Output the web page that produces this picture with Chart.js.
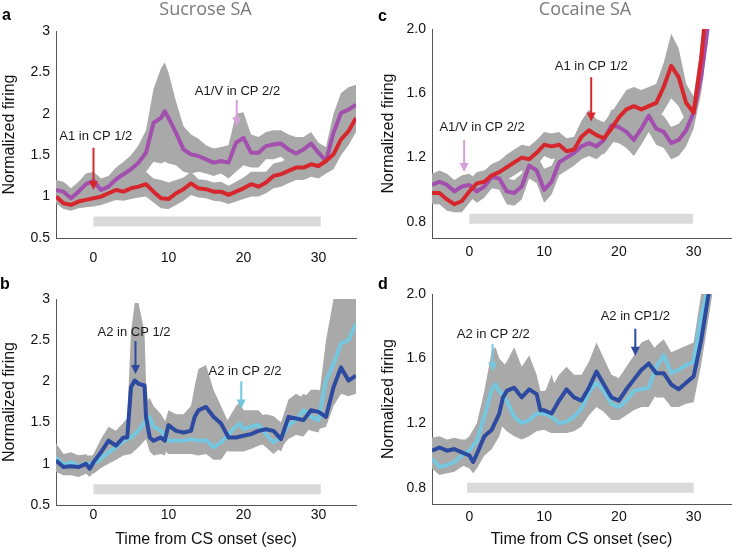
<!DOCTYPE html>
<html>
<head>
  <title>Normalized firing - Sucrose SA / Cocaine SA</title>
  <script src="https://cdn.jsdelivr.net/npm/chart.js"></script>
  <style>
    body { margin: 0; background: #fff; width: 732px; height: 548px; position: relative; overflow: hidden; }
    canvas { position: absolute; }
  </style>
</head>
<body>
  <canvas id="pa" width="366" height="274" style="left:0;top:0"></canvas>
  <canvas id="pc" width="366" height="274" style="left:366px;top:0"></canvas>
  <canvas id="pb" width="366" height="274" style="left:0;top:274px"></canvas>
  <canvas id="pd" width="366" height="274" style="left:366px;top:274px"></canvas>

  <script>
    // ---- data ----
    const xTicks = [0, 10, 20, 30];
    const sucTicks = [0.5, 1, 1.5, 2, 2.5, 3];
    const sucLabels = ['0.5', '1', '1.5', '2', '2.5', '3'];
    const cocTicks = [0.8, 1.2, 1.6, 2.0];
    const cocLabels = ['0.8', '1.2', '1.6', '2.0'];

    // panel a: sucrose, A1 in CP 1/2 (red) and A1/V in CP 2/2 (purple)
    const aRedT = [-5,-4,-3,-2,-1,0,1,2,3,4,5,6,7,8,9,10,11,12,13,14,15,16,17,18,19,20,21,22,23,24,25,26,27,28,29,30,31,32,33,34,35];
    const aRed = [1.00,0.92,0.90,0.94,0.96,0.98,1.00,1.04,1.08,1.06,1.10,1.12,1.15,1.06,0.98,0.97,1.04,1.09,1.16,1.10,1.09,1.06,1.06,1.02,1.06,1.10,1.15,1.12,1.17,1.25,1.27,1.31,1.35,1.35,1.39,1.37,1.43,1.51,1.69,1.79,1.95];
    const aRedHi = [1.08,0.99,0.97,1.02,1.05,1.08,1.10,1.15,1.20,1.17,1.23,1.25,1.30,1.22,1.20,1.17,1.20,1.23,1.30,1.21,1.20,1.17,1.18,1.13,1.18,1.23,1.30,1.30,1.30,1.40,1.42,1.46,1.50,1.50,1.54,1.52,1.58,1.69,1.88,1.96,2.12];
    const aRedLo = [0.92,0.85,0.83,0.86,0.87,0.88,0.90,0.93,0.96,0.95,0.97,0.99,1.00,0.93,0.86,0.85,0.90,0.95,1.02,0.99,0.98,0.95,0.94,0.91,0.94,0.97,1.00,1.00,1.04,1.10,1.12,1.16,1.20,1.20,1.24,1.22,1.28,1.33,1.50,1.62,1.78];
    const aPurT = [-5,-4,-3,-2,-1,0,1,2,3,4,5,6,7,8,9,9.5,10,11,12,13,14,15,16,17,18,19,20,21,22,23,24,25,26,27,28,29,30,31,32,33,34,35];
    const aPur = [1.08,1.06,0.98,1.06,1.15,1.19,1.08,1.12,1.21,1.27,1.33,1.41,1.53,1.89,1.95,2.03,1.95,1.77,1.57,1.51,1.49,1.45,1.41,1.43,1.41,1.65,1.71,1.53,1.53,1.61,1.63,1.64,1.57,1.52,1.57,1.64,1.53,1.43,1.77,2.01,2.05,2.11];
    const aPurHi = [1.20,1.18,1.10,1.18,1.28,1.30,1.22,1.25,1.35,1.42,1.50,1.62,1.80,2.30,2.55,2.62,2.50,2.15,1.85,1.75,1.70,1.62,1.58,1.60,1.62,2.00,2.02,1.75,1.72,1.78,1.80,1.80,1.75,1.72,1.72,1.78,1.65,1.60,2.00,2.25,2.32,2.35];
    const aPurLo = [0.95,0.93,0.88,0.95,1.03,1.05,0.98,1.00,1.08,1.12,1.18,1.22,1.30,1.42,1.40,1.42,1.40,1.38,1.30,1.28,1.30,1.28,1.25,1.28,1.22,1.30,1.38,1.35,1.35,1.45,1.45,1.48,1.40,1.35,1.40,1.50,1.42,1.30,1.55,1.75,1.80,1.85];

    // panel c: cocaine, A1 in CP 1/2 (red) and A1/V in CP 2/2 (purple)
    const cT = [-5,-4,-3,-2,-1,0,1,2,3,4,5,6,7,8,9,10,11,12,13,14,15,16,17,18,19,20,21,22,23,24,25,26,27,28,29,30,31,32];
    const cRed = [0.98,0.98,0.94,0.91,0.93,0.99,1.04,1.05,1.09,1.11,1.14,1.17,1.20,1.19,1.23,1.28,1.27,1.28,1.24,1.25,1.33,1.37,1.34,1.32,1.38,1.45,1.50,1.52,1.50,1.52,1.54,1.64,1.77,1.70,1.54,1.48,1.81,2.30];
    const cRedHi = [1.05,1.05,1.01,0.98,1.00,1.06,1.11,1.12,1.16,1.18,1.22,1.25,1.28,1.27,1.31,1.36,1.35,1.36,1.32,1.33,1.43,1.50,1.44,1.42,1.48,1.55,1.62,1.64,1.62,1.64,1.66,1.79,1.97,1.88,1.66,1.58,1.91,2.40];
    const cRedLo = [0.91,0.91,0.87,0.86,0.86,0.92,0.97,0.98,1.02,1.04,1.06,1.09,1.12,1.11,1.15,1.21,1.19,1.20,1.16,1.17,1.23,1.27,1.24,1.22,1.28,1.35,1.38,1.40,1.38,1.40,1.42,1.49,1.57,1.52,1.42,1.38,1.71,2.20];
    const cPur = [1.03,1.05,1.03,0.99,1.02,1.03,0.99,1.02,1.08,1.07,0.99,0.98,1.02,1.15,1.12,1.00,1.05,1.17,1.20,1.23,1.27,1.29,1.27,1.31,1.40,1.39,1.36,1.31,1.38,1.46,1.38,1.36,1.29,1.31,1.37,1.48,1.70,2.05];
    const cPurHi = [1.10,1.12,1.10,1.06,1.09,1.10,1.06,1.09,1.15,1.14,1.07,1.06,1.10,1.23,1.22,1.13,1.15,1.25,1.28,1.31,1.35,1.37,1.35,1.39,1.50,1.49,1.46,1.41,1.48,1.56,1.48,1.46,1.39,1.41,1.47,1.58,1.80,2.15];
    const cPurLo = [0.96,0.98,0.96,0.92,0.95,0.96,0.92,0.95,1.01,1.00,0.91,0.90,0.94,1.07,1.04,0.92,0.97,1.09,1.12,1.15,1.19,1.21,1.19,1.23,1.30,1.29,1.26,1.21,1.28,1.36,1.28,1.26,1.19,1.21,1.27,1.38,1.60,1.95];

    // panel b: sucrose, A2 in CP 1/2 (dark blue) and A2 in CP 2/2 (light blue)
    const bDarkT = [-5,-4,-3,-2,-1,-0.5,0,1,2,3,4,4.5,5,5.5,6,6.8,7,7.5,8,9,9.5,10,11,12,13,13.5,14,15,16,17,18,19,20,21,22,23,24,25,26,27,28,29,30,31,32,33,34,35];
    const bDark = [1.04,0.96,0.97,0.96,1.00,0.94,1.02,1.14,1.28,1.22,1.32,1.32,1.93,2.01,1.97,1.95,1.57,1.32,1.28,1.32,1.28,1.47,1.40,1.38,1.40,1.57,1.65,1.69,1.57,1.49,1.32,1.32,1.34,1.36,1.40,1.42,1.40,1.30,1.57,1.55,1.53,1.65,1.63,1.57,1.93,2.17,2.01,2.07];
    const bDarkHi = [1.22,1.12,1.12,1.10,1.12,1.06,1.12,1.30,1.45,1.40,1.50,1.55,2.60,2.95,2.95,2.60,2.00,1.55,1.50,1.55,1.50,1.65,1.60,1.60,1.70,1.95,2.15,2.20,1.90,1.70,1.50,1.50,1.55,1.55,1.58,1.60,1.58,1.50,1.78,1.85,1.80,1.90,1.90,1.85,2.40,2.50,2.40,2.40];
    const bDarkLo = [0.90,0.86,0.86,0.84,0.88,0.84,0.90,1.00,1.12,1.08,1.15,1.15,1.40,1.45,1.45,1.50,1.30,1.15,1.10,1.12,1.10,1.25,1.22,1.20,1.20,1.30,1.35,1.40,1.30,1.25,1.15,1.15,1.15,1.18,1.22,1.25,1.22,1.15,1.38,1.35,1.33,1.45,1.42,1.45,1.70,1.85,1.82,1.85];
    const bLightT = [-5,-4,-3,-2,-1,0,1,2,3,4,5,6,7,7.5,8,9,10,11,12,13,14,15,16,17,18,19,19.5,20,21,22,23,24,25,26,27,28,29,30,31,32,33,34,35];
    const bLight = [1.08,0.98,1.02,0.97,1.00,1.00,1.06,1.14,1.20,1.28,1.32,1.40,1.53,1.57,1.45,1.40,1.28,1.28,1.28,1.30,1.28,1.29,1.20,1.26,1.36,1.45,1.49,1.42,1.45,1.47,1.36,1.26,1.32,1.47,1.53,1.65,1.57,1.53,2.01,2.21,2.46,2.50,2.70];
    const bLightHi = [1.25,1.12,1.14,1.10,1.10,1.10,1.20,1.30,1.35,1.45,1.50,1.60,1.75,1.80,1.70,1.60,1.45,1.45,1.45,1.50,1.45,1.45,1.38,1.40,1.55,1.70,1.75,1.65,1.65,1.65,1.55,1.45,1.50,1.65,1.75,1.85,1.80,1.75,2.50,3.00,3.10,3.10,3.10];
    const bLightLo = [0.92,0.86,0.90,0.85,0.90,0.88,0.95,1.00,1.05,1.10,1.12,1.20,1.30,1.35,1.25,1.20,1.12,1.12,1.12,1.12,1.10,1.12,1.05,1.05,1.18,1.25,1.30,1.25,1.28,1.28,1.20,1.12,1.20,1.30,1.35,1.45,1.40,1.38,1.65,1.75,1.85,1.90,2.00];

    // panel d: cocaine, A2 in CP1/2 (dark blue) and A2 in CP 2/2 (light blue)
    const dDarkT = [-5,-4,-3,-2,-1,0,0.5,1,2,3,4,4.5,5,6,7,8,9,9.5,10,11,12,13,14,15,16,17,18,19,20,21,22,23,24,25,26,27,28,29,30,31,32,33];
    const dDark = [1.03,1.05,1.03,1.04,1.02,1.00,0.96,1.01,1.12,1.16,1.26,1.36,1.40,1.42,1.36,1.41,1.38,1.28,1.28,1.26,1.34,1.41,1.36,1.34,1.42,1.52,1.44,1.36,1.34,1.41,1.47,1.53,1.57,1.51,1.51,1.44,1.41,1.45,1.49,1.71,2.00,2.30];
    const dDarkHi = [1.11,1.12,1.10,1.11,1.10,1.10,1.05,1.10,1.22,1.30,1.42,1.55,1.58,1.67,1.55,1.62,1.50,1.40,1.40,1.42,1.50,1.55,1.50,1.50,1.58,1.70,1.60,1.50,1.48,1.55,1.62,1.70,1.72,1.65,1.65,1.60,1.55,1.62,1.66,1.85,2.15,2.45];
    const dDarkLo = [0.95,0.97,0.95,0.96,0.94,0.92,0.89,0.92,1.00,1.04,1.12,1.20,1.22,1.25,1.20,1.24,1.22,1.16,1.16,1.14,1.18,1.26,1.20,1.20,1.26,1.34,1.30,1.24,1.24,1.28,1.32,1.36,1.40,1.36,1.36,1.30,1.30,1.32,1.33,1.56,1.85,2.15];
    const dLightT = [-5,-4,-3,-2,-1,0,1,2,3,3.5,4,5,6,7,8,9,10,11,12,13,14,15,16,17,18,19,20,21,22,23,24,25,26,27,28,29,30,31,32];
    const dLight = [0.98,0.93,0.94,0.96,1.00,1.03,1.09,1.24,1.41,1.44,1.40,1.34,1.24,1.20,1.22,1.26,1.26,1.24,1.20,1.21,1.24,1.29,1.39,1.45,1.40,1.32,1.30,1.34,1.40,1.41,1.42,1.55,1.62,1.51,1.53,1.56,1.58,1.86,2.04];
    const dLightHi = [1.06,1.01,1.02,1.04,1.08,1.12,1.20,1.40,1.65,1.67,1.60,1.55,1.42,1.35,1.38,1.40,1.38,1.50,1.35,1.35,1.38,1.45,1.55,1.62,1.55,1.45,1.42,1.45,1.55,1.58,1.62,1.68,1.72,1.64,1.66,1.68,1.70,2.00,2.20];
    const dLightLo = [0.92,0.88,0.89,0.90,0.93,0.95,0.98,1.08,1.18,1.20,1.20,1.15,1.12,1.10,1.12,1.15,1.16,1.14,1.14,1.14,1.15,1.18,1.25,1.30,1.27,1.22,1.22,1.25,1.28,1.30,1.30,1.38,1.45,1.38,1.38,1.40,1.42,1.72,1.90];

    // CS presentation bars (time span, level)
    const csA = { t: [0, 30.3], y: 0.70 };
    const csC = { t: [0, 29.9], y: 0.82 };
    const csB = { t: [0, 30.3], y: 0.69 };
    const csD = { t: [-0.3, 30], y: 0.80 };

    // ---- styling ----
    const RED = '#d8262d', PURPLE = '#a24fae', PINK = '#d6a0da';
    const DARK = '#2c4a9f', LIGHT = '#74c7de';
    const BAND = '#a9a9a9', BAR = '#dadada', AXIS = '#555';
    const FONT = '"Liberation Sans", Arial, sans-serif';

    function pts(t, v) {
      return t.map((x, i) => ({ x: x, y: v[i] }));
    }

    const annot = {
      id: 'annot',
      afterDatasetsDraw(chart, args, opts) {
        const ctx = chart.ctx, sx = chart.scales.x, sy = chart.scales.y;
        ctx.save();
        opts.arrows.forEach(a => {
          const px = sx.getPixelForValue(a.t);
          const y0 = sy.getPixelForValue(a.from), y1 = sy.getPixelForValue(a.to);
          ctx.strokeStyle = a.color;
          ctx.fillStyle = a.color;
          ctx.lineWidth = 2;
          ctx.beginPath();
          ctx.moveTo(px, y0);
          ctx.lineTo(px, y1 - 8);
          ctx.stroke();
          ctx.beginPath();
          ctx.moveTo(px - 4.5, y1 - 9);
          ctx.lineTo(px + 4.5, y1 - 9);
          ctx.lineTo(px, y1);
          ctx.closePath();
          ctx.fill();
          ctx.fillStyle = '#1a1a1a';
          ctx.font = '13px ' + FONT;
          ctx.textAlign = 'center';
          ctx.textBaseline = 'middle';
          ctx.fillText(a.text, sx.getPixelForValue(a.tx), sy.getPixelForValue(a.ty));
        });
        ctx.restore();
      },
      afterDraw(chart, args, opts) {
        const ctx = chart.ctx;
        ctx.save();
        ctx.textBaseline = 'alphabetic';
        ctx.textAlign = 'left';
        ctx.fillStyle = '#000';
        ctx.font = 'bold 16px ' + FONT;
        ctx.fillText(opts.letter[0], opts.letter[1], opts.letter[2]);
        if (opts.title) {
          ctx.textAlign = 'center';
          ctx.fillStyle = '#7a7a7a';
          ctx.font = '18px "Open Sans", sans-serif';
          ctx.fillText(opts.title[0], opts.title[1], opts.title[2]);
        }
        ctx.restore();
      }
    };

    function makePanel(id, p) {
      let datasets = [];
      p.series.forEach(s => {
        datasets.push({ data: pts(s.t, s.hi), borderWidth: 0, borderColor: 'rgba(0,0,0,0)', pointRadius: 0, fill: '+1', backgroundColor: BAND, order: 3 });
        datasets.push({ data: pts(s.t, s.lo), borderWidth: 0, borderColor: 'rgba(0,0,0,0)', pointRadius: 0, fill: false, order: 3 });
      });
      datasets.push({ data: pts(p.cs.t, [p.cs.y, p.cs.y]), borderColor: BAR, borderWidth: 10, borderCapStyle: 'butt', pointRadius: 0, fill: false, order: 2 });
      p.series.forEach(s => {
        datasets.push({ data: pts(s.t, s.v), borderColor: s.color, borderWidth: 4, borderJoinStyle: 'round', pointRadius: 0, fill: false, order: 1 });
      });

      new Chart(document.getElementById(id), {
        type: 'line',
        data: { datasets: datasets },
        plugins: [annot],
        options: {
          responsive: false,
          animation: false,
          events: [],
          devicePixelRatio: 1,
          layout: { padding: { left: p.padL, top: p.padT, right: p.padR, bottom: 0 } },
          plugins: {
            legend: { display: false },
            tooltip: { enabled: false },
            annot: { arrows: p.arrows, letter: p.letter, title: p.title }
          },
          scales: {
            x: {
              type: 'linear', min: -5, max: 35,
              afterBuildTicks: s => { s.ticks = xTicks.map(v => ({ value: v })); },
              afterFit: s => { s.height = p.xh; },
              grid: { drawOnChartArea: false, drawTicks: false },
              border: { color: AXIS, width: 1 },
              ticks: { font: { family: FONT, size: 14 }, color: '#111', padding: p.xpad, maxRotation: 0, autoSkip: false },
              title: { display: !!p.xTitle, text: p.xTitle || '', font: { family: FONT, size: 16, lineHeight: 1 }, color: '#111', padding: { top: 0, bottom: 0 } }
            },
            y: {
              type: 'linear', min: p.ymin, max: p.ymax,
              afterBuildTicks: s => { s.ticks = p.yTicks.map(v => ({ value: v })); },
              afterFit: s => { s.width = p.yw; },
              grid: { drawOnChartArea: false, drawTicks: false },
              border: { color: AXIS, width: 1 },
              ticks: { font: { family: FONT, size: 14 }, color: '#111', padding: 6, autoSkip: false, callback: (v, i) => p.yLabels[i] },
              title: { display: true, text: 'Normalized firing', font: { family: FONT, size: 16 }, color: '#111', padding: { top: 0, bottom: 0 } }
            }
          }
        }
      });
    }

    makePanel('pa', {
      padL: 0, padT: 31, padR: 10, yw: 56, xh: 36, xpad: 12,
      ymin: 0.5, ymax: 3, yTicks: sucTicks, yLabels: sucLabels,
      letter: ['a', 2, 20], title: ['Sucrose SA', 205.5, 15],
      cs: csA,
      series: [
        { t: aRedT, v: aRed, hi: aRedHi, lo: aRedLo, color: RED },
        { t: aPurT, v: aPur, hi: aPurHi, lo: aPurLo, color: PURPLE }
      ],
      arrows: [
        { text: 'A1 in CP 1/2', tx: 0.3, ty: 1.73, t: 0, from: 1.59, to: 1.08, color: RED },
        { text: 'A1/V in CP 2/2', tx: 19.2, ty: 2.27, t: 19.1, from: 2.17, to: 1.85, color: PINK }
      ]
    });

    makePanel('pc', {
      padL: 13, padT: 29, padR: 1, yw: 53, xh: 36, xpad: 6,
      ymin: 0.7, ymax: 2.0, yTicks: cocTicks, yLabels: cocLabels,
      letter: ['c', 12, 21], title: ['Cocaine SA', 219, 15],
      cs: csC,
      series: [
        { t: cT, v: cRed, hi: cRedHi, lo: cRedLo, color: RED },
        { t: cT, v: cPur, hi: cPurHi, lo: cPurLo, color: PURPLE }
      ],
      arrows: [
        { text: 'A1 in CP 1/2', tx: 16.3, ty: 1.765, t: 16.3, from: 1.70, to: 1.425, color: RED },
        { text: 'A1/V in CP 2/2', tx: 1.7, ty: 1.39, t: -0.7, from: 1.31, to: 1.11, color: PINK }
      ]
    });

    makePanel('pb', {
      padL: 0, padT: 25, padR: 10, yw: 56, xh: 43, xpad: 2,
      ymin: 0.5, ymax: 3, yTicks: sucTicks, yLabels: sucLabels,
      letter: ['b', 0, 15], title: null, xTitle: 'Time from CS onset (sec)',
      cs: csB,
      series: [
        { t: bDarkT, v: bDark, hi: bDarkHi, lo: bDarkLo, color: DARK },
        { t: bLightT, v: bLight, hi: bLightHi, lo: bLightLo, color: LIGHT }
      ],
      arrows: [
        { text: 'A2 in CP 1/2', tx: 5.4, ty: 2.59, t: 5.6, from: 2.49, to: 2.09, color: DARK },
        { text: 'A2 in CP 2/2', tx: 20.2, ty: 2.12, t: 19.7, from: 2.0, to: 1.67, color: LIGHT }
      ]
    });

    makePanel('pd', {
      padL: 13, padT: 20, padR: 1, yw: 53, xh: 44, xpad: 5,
      ymin: 0.7, ymax: 2.0, yTicks: cocTicks, yLabels: cocLabels,
      letter: ['d', 12, 15], title: null, xTitle: 'Time from CS onset (sec)',
      cs: csD,
      series: [
        { t: dDarkT, v: dDark, hi: dDarkHi, lo: dDarkLo, color: DARK },
        { t: dLightT, v: dLight, hi: dLightHi, lo: dLightLo, color: LIGHT }
      ],
      arrows: [
        { text: 'A2 in CP 2/2', tx: 3.2, ty: 1.747, t: 3.1, from: 1.69, to: 1.52, color: LIGHT },
        { text: 'A2 in CP1/2', tx: 22.2, ty: 1.862, t: 22.2, from: 1.785, to: 1.617, color: DARK }
      ]
    });
  </script>
</body>
</html>
